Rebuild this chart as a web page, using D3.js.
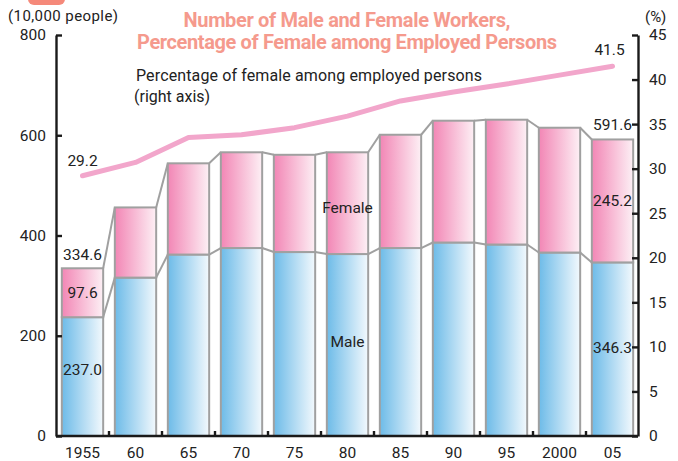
<!DOCTYPE html>
<html>
<head>
<meta charset="utf-8">
<script src="https://cdn.jsdelivr.net/npm/d3@7/dist/d3.min.js"></script>
<style>
  html, body { margin: 0; padding: 0; background: #fff; }
  svg { display: block; }
  text { font-family: Roboto, "Noto Sans", sans-serif; fill: #222; }
</style>
</head>
<body>
<svg id="chart" width="678" height="461"></svg>
<script>
// Workers by sex (10,000 people) and female share of employed persons (%)
const years = ["1955", "60", "65", "70", "75", "80", "85", "90", "95", "2000", "05"];
const total = [334.6, 456, 544, 566, 561, 566, 601, 629, 631, 615, 591.6];
const male = [237.0, 316, 362, 375, 367, 363, 375, 386, 382, 366, 346.3];
const female = [97.6, 140, 182, 191, 194, 203, 226, 243, 249, 249, 245.2];
const femalePct = [29.2, 30.7, 33.5, 33.8, 34.6, 35.9, 37.6, 38.6, 39.5, 40.5, 41.5];
const leftTicks = [0, 200, 400, 600, 800];
const rightTicks = [0, 5, 10, 15, 20, 25, 30, 35, 40, 45];

const svg = d3.select("#chart");
const plotLeft = 56, plotRight = 638, plotTop = 35, plotBottom = 436;

const xo = d3.scaleBand().domain(years).range([plotLeft, plotRight + 1]).padding(0);
const x = d3.scaleBand().domain(years).range([plotLeft, plotRight + 1])
  .paddingInner(0.22).paddingOuter(0.11);
const y = d3.scaleLinear().domain([0, 800]).range([plotBottom, plotTop]);
const y2 = d3.scaleLinear().domain([0, 45]).range([plotBottom, plotTop]);

// gradients
const defs = svg.append("defs");
function grad(id, c0, c1) {
  const g = defs.append("linearGradient").attr("id", id)
    .attr("x1", 0).attr("x2", 1).attr("y1", 0).attr("y2", 0);
  g.append("stop").attr("offset", "0%").attr("stop-color", c0);
  g.append("stop").attr("offset", "100%").attr("stop-color", c1);
}
grad("gMale", "#6dbbe8", "#f3f9fd");
grad("gFemale", "#f286b5", "#fdf0f5");

// badge at top-left
svg.append("rect").attr("x", 28).attr("y", -12).attr("width", 37).attr("height", 17)
  .attr("rx", 6).attr("fill", "#f5897a");

// title
const title = svg.append("g").attr("text-anchor", "middle")
  .style("font-weight", 700).style("font-size", "20px");
title.append("text").attr("x", 347).attr("y", 27).style("fill", "#f59a8d")
  .attr("textLength", 327).text("Number of Male and Female Workers,");
title.append("text").attr("x", 347).attr("y", 49).style("fill", "#f59a8d")
  .attr("textLength", 420).text("Percentage of Female among Employed Persons");

// unit labels
svg.append("text").attr("x", 8).attr("y", 21).style("font-size", "15px")
  .attr("textLength", 110).text("(10,000 people)");
svg.append("text").attr("x", 645).attr("y", 22).style("font-size", "15px").text("(%)");

// line description
svg.append("text").attr("x", 136).attr("y", 81).style("font-size", "16px")
  .attr("textLength", 346).text("Percentage of female among employed persons");
svg.append("text").attr("x", 134).attr("y", 102).style("font-size", "16px")
  .text("(right axis)");

const data = years.map((yr, i) => ({
  yr, male: male[i], female: female[i], total: total[i], pct: femalePct[i]
}));

const bw = x.bandwidth();
const stroke = "#a0a0a0";

// connectors between neighbouring bars
const conn = svg.append("g").attr("stroke", stroke).attr("stroke-width", 2).attr("fill", "none");
for (let i = 0; i < data.length - 1; i++) {
  const a = data[i], b = data[i + 1];
  conn.append("line").attr("x1", x(a.yr) + bw).attr("x2", x(b.yr))
    .attr("y1", y(a.total)).attr("y2", y(b.total));
  conn.append("line").attr("x1", x(a.yr) + bw).attr("x2", x(b.yr))
    .attr("y1", y(a.male)).attr("y2", y(b.male));
}

// stacked bars
const bars = svg.append("g");
bars.selectAll("rect.male").data(data).join("rect").attr("class", "male")
  .attr("x", d => x(d.yr)).attr("width", bw)
  .attr("y", d => y(d.male)).attr("height", d => y(0) - y(d.male))
  .attr("fill", "url(#gMale)").attr("stroke", stroke).attr("stroke-width", 2);
bars.selectAll("rect.female").data(data).join("rect").attr("class", "female")
  .attr("x", d => x(d.yr)).attr("width", bw)
  .attr("y", d => y(d.total)).attr("height", d => y(d.male) - y(d.total))
  .attr("fill", "url(#gFemale)").attr("stroke", stroke).attr("stroke-width", 2);

// female share line
svg.append("path").datum(data)
  .attr("d", d3.line().x(d => x(d.yr) + bw / 2).y(d => y2(d.pct)))
  .attr("fill", "none").attr("stroke", "#f2a6cb").attr("stroke-width", 5)
  .attr("stroke-linejoin", "round").attr("stroke-linecap", "round");

// axes
const axL = svg.append("g").attr("transform", `translate(${plotLeft},0)`)
  .call(d3.axisLeft(y).tickValues(leftTicks).tickSize(-6).tickSizeOuter(0).tickPadding(10));
const axR = svg.append("g").attr("transform", `translate(${plotRight},0)`)
  .call(d3.axisRight(y2).tickValues(rightTicks).tickSize(-6).tickSizeOuter(0).tickPadding(11));
const axB = svg.append("g").attr("transform", `translate(0,${plotBottom})`)
  .call(d3.axisBottom(xo).tickSize(0).tickSizeOuter(0).tickPadding(11));
[axL, axR, axB].forEach(g => {
  g.selectAll("path.domain").attr("stroke", "#1a1a1a").attr("stroke-width", 2.4);
  g.selectAll("line").attr("stroke", "#1a1a1a").attr("stroke-width", 2.4);
  g.selectAll("text").style("font-size", "15.5px").style("fill", "#222")
    .style("font-family", "Roboto, 'Noto Sans', sans-serif");
});
axB.select("path.domain").attr("d", `M${plotLeft},0H${plotRight}`);
// boundary ticks on the category axis
axB.selectAll("line.boundary").data(years.slice(1)).join("line").attr("class", "boundary")
  .attr("x1", d => xo(d)).attr("x2", d => xo(d)).attr("y1", 0).attr("y2", -5)
  .attr("stroke", "#1a1a1a").attr("stroke-width", 2.4);

// value labels
const lab = svg.append("g").attr("text-anchor", "middle").style("font-size", "15.5px");
const first = data[0], last = data[data.length - 1];
const cx = d => x(d.yr) + bw / 2;
lab.append("text").attr("x", cx(first)).attr("y", y2(first.pct) - 10).text(first.pct.toFixed(1));
lab.append("text").attr("x", cx(last) - 3).attr("y", y2(last.pct) - 11).text(last.pct.toFixed(1));
lab.append("text").attr("x", cx(first)).attr("y", y(first.total) - 8).text(first.total.toFixed(1));
lab.append("text").attr("x", cx(first)).attr("y", (y(first.total) + y(first.male)) / 2 + 5).text(first.female.toFixed(1));
lab.append("text").attr("x", cx(first)).attr("y", y(first.male / 2) - 2).text(first.male.toFixed(1));
lab.append("text").attr("x", cx(last)).attr("y", y(last.total) - 9).text(last.total.toFixed(1));
lab.append("text").attr("x", cx(last)).attr("y", (y(last.total) + y(last.male)) / 2 + 5).text(last.female.toFixed(1));
lab.append("text").attr("x", cx(last)).attr("y", y(last.male / 2) + 4).text(last.male.toFixed(1));

// series names
const mid = data[5];
lab.append("text").attr("x", cx(mid)).attr("y", 213).text("Female");
lab.append("text").attr("x", cx(mid)).attr("y", 347).text("Male");
</script>
</body>
</html>
